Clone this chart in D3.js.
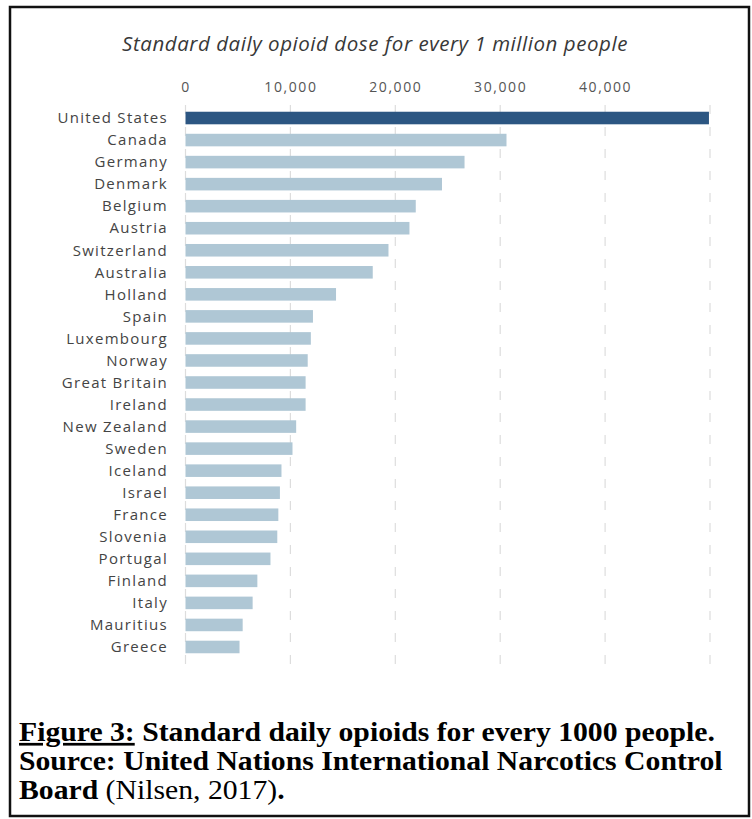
<!DOCTYPE html>
<html>
<head>
<meta charset="utf-8">
<script src="https://cdn.jsdelivr.net/npm/d3@7"></script>
<style>
  body { margin: 0; background: #fff; }
</style>
</head>
<body>
<div id="chart"></div>
<script>
// data
const countries = ['United States', 'Canada', 'Germany', 'Denmark', 'Belgium', 'Austria',
  'Switzerland', 'Australia', 'Holland', 'Spain', 'Luxembourg', 'Norway', 'Great Britain',
  'Ireland', 'New Zealand', 'Sweden', 'Iceland', 'Israel', 'France', 'Slovenia', 'Portugal',
  'Finland', 'Italy', 'Mauritius', 'Greece'];
const doses = [49900, 30600, 26600, 24450, 21950, 21350, 19350, 17850, 14350, 12150, 11950,
  11650, 11450, 11450, 10550, 10200, 9150, 9000, 8850, 8750, 8100, 6850, 6400, 5450, 5150];
const tickValues = [0, 10000, 20000, 30000, 40000, 50000];
const tickLabels = ['0', '10,000', '20,000', '30,000', '40,000', ''];

const W = 752, H = 819;
const data = countries.map((c, i) => ({ country: c, value: doses[i] }));

const svg = d3.select('#chart').append('svg')
  .attr('width', W)
  .attr('height', H);

// frame around the figure
svg.append('rect')
  .attr('x', 10).attr('y', 7)
  .attr('width', 739).attr('height', 809)
  .attr('fill', 'none')
  .attr('stroke', '#111')
  .attr('stroke-width', 2.5);

const x = d3.scaleLinear().domain([0, 50000]).range([185.5, 710]);
const y = d3.scaleBand().domain(countries).range([107, 658])
  .paddingInner(0.43).paddingOuter(0.215);

// title
svg.append('text')
  .attr('x', 375).attr('y', 51)
  .attr('text-anchor', 'middle')
  .style('font-family', '"Open Sans", sans-serif')
  .style('font-style', 'italic')
  .style('font-weight', 400)
  .style('font-size', '20.5px')
  .style('letter-spacing', '0.55px')
  .style('fill', '#383838')
  .text('Standard daily opioid dose for every 1 million people');

// dashed gridlines
svg.append('g').selectAll('line')
  .data(tickValues)
  .join('line')
  .attr('x1', d => x(d)).attr('x2', d => x(d))
  .attr('y1', 105).attr('y2', 665)
  .attr('stroke', '#ddd')
  .attr('stroke-width', 1.2)
  .attr('stroke-dasharray', '9 13');

// top axis, labels only
const axis = svg.append('g')
  .attr('transform', 'translate(0, 92)')
  .call(d3.axisTop(x).tickValues(tickValues).tickSize(0)
    .tickFormat((d, i) => tickLabels[i]));
axis.select('.domain').remove();
axis.selectAll('text')
  .attr('y', 0)
  .style('font-family', '"Open Sans", sans-serif')
  .style('font-size', '14px')
  .style('letter-spacing', '1.6px')
  .style('fill', '#555');

// bars
svg.append('g').selectAll('rect')
  .data(data)
  .join('rect')
  .attr('x', x(0))
  .attr('y', d => y(d.country))
  .attr('width', d => x(d.value) - x(0))
  .attr('height', y.bandwidth())
  .attr('fill', d => d.country === 'United States' ? '#2c5682' : '#afc7d5');

// country labels
svg.append('g').selectAll('text')
  .data(data)
  .join('text')
  .attr('x', 168)
  .attr('y', d => y(d.country) + y.bandwidth() / 2)
  .attr('dy', '0.35em')
  .attr('text-anchor', 'end')
  .style('font-family', '"Open Sans", sans-serif')
  .style('font-size', '15px')
  .style('letter-spacing', '1.3px')
  .style('fill', '#444')
  .text(d => d.country);

// caption below the chart (a bit stretched sideways, like the scan)
const sx = 1.1;
const cap = svg.append('g')
  .attr('transform', `scale(${sx}, 1)`)
  .style('font-family', '"Liberation Serif", "Times New Roman", serif')
  .style('font-size', '27px')
  .style('fill', '#000');

const l1 = cap.append('text').attr('x', 19 / sx).attr('y', 741);
l1.append('tspan').style('font-weight', 'bold').style('text-decoration', 'underline').text('Figure 3:');
l1.append('tspan').style('font-weight', 'bold').text(' Standard daily opioids for every 1000 people.');

cap.append('text').attr('x', 19 / sx).attr('y', 770)
  .style('font-weight', 'bold')
  .text('Source: United Nations International Narcotics Control');

const l3 = cap.append('text').attr('x', 19 / sx).attr('y', 799);
l3.append('tspan').style('font-weight', 'bold').text('Board');
l3.append('tspan').text(' (Nilsen, 2017)');
l3.append('tspan').style('font-weight', 'bold').text('.');
</script>
</body>
</html>
